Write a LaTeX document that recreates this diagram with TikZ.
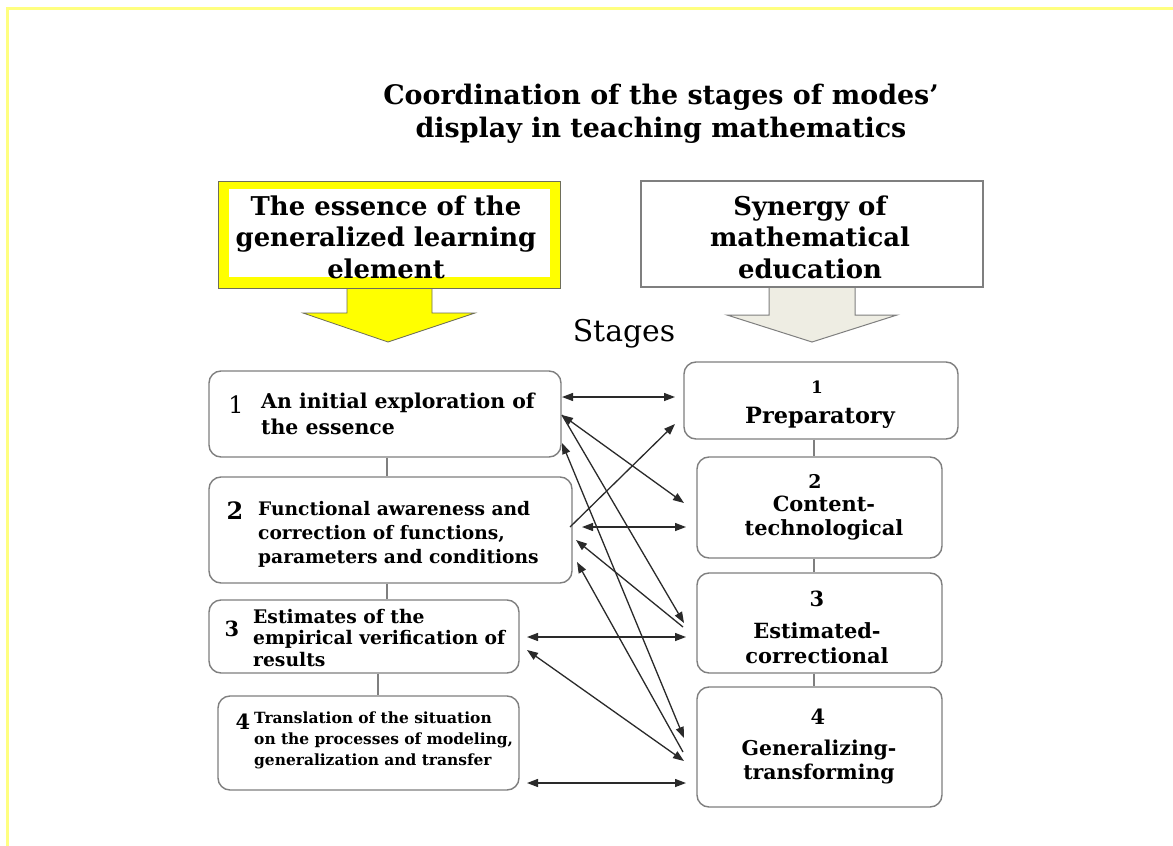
\documentclass[tikz,border=0pt]{standalone}
\usepackage{fontspec}
\setmainfont{DejaVu Serif}
\usetikzlibrary{arrows.meta}
\definecolor{boxgray}{HTML}{7F7F7F}
\definecolor{arrgray}{HTML}{2A2A2A}
\definecolor{frameyellow}{HTML}{FFFF80}
\definecolor{hdryellow}{HTML}{FFFF00}
\definecolor{hdrgray}{HTML}{EEEDE3}
\definecolor{hdrline}{HTML}{6E6E5A}
\begin{document}
\begin{tikzpicture}[x=1bp,y=-1bp,
  >={Triangle[length=11bp,width=8bp]},
  stagebox/.style={draw=boxgray, line width=1.4bp, rounded corners=12bp, fill=white, inner sep=0pt},
  link/.style={draw=boxgray, line width=1.4bp},
  conn/.style={draw=arrgray, line width=1.3bp},
  txt/.style={inner sep=0pt, align=left, anchor=west},
  ctxt/.style={inner sep=0pt, align=center},
  hdr/.style={ctxt, font=\fontsize{26}{31.5}\selectfont\bfseries},
  num/.style={inner sep=0pt, font=\fontsize{24}{26}\selectfont}
]
\useasboundingbox (0,0) rectangle (1173,846);
\fill[white] (0,0) rectangle (1173,846);
% frame
\draw[frameyellow, line width=3bp] (7,846) -- (7,8) -- (1173,8);

% title
\node[ctxt, font=\fontsize{27}{33}\selectfont\bfseries] (title) at (661,114)
  {Coordination of the stages of modes’\\display in teaching mathematics};

% left header arrow
\filldraw[fill=hdryellow, draw=hdrline, line width=0.8bp]
  (347,286) -- (347,313) -- (303,313) -- (388,342) -- (475,313) -- (432,313) -- (432,286);
\filldraw[fill=hdryellow, draw=hdrline, line width=0.8bp] (218,181) rectangle (560,288);
\fill[white] (229,189) rectangle (550,277);
\node[hdr] (hL) at (386,237) {The essence of the\\generalized learning\\element};

% right header arrow
\filldraw[fill=hdrgray, draw=boxgray, line width=1bp]
  (769,285) -- (769,315) -- (727,315) -- (812,342) -- (897,315) -- (855,315) -- (855,285);
\filldraw[fill=white, draw=boxgray, line width=1.2bp] (641,181) rectangle (983,287);
\node[hdr] (hR) at (810,237) {Synergy of\\mathematical\\education};

\node[inner sep=0pt, font=\fontsize{30}{34}\selectfont] (stages) at (624,334) {Stages};

% left boxes
\node[stagebox, minimum width=352bp, minimum height=86bp] (L1) at (385,414) {};
\node[stagebox, minimum width=363bp, minimum height=106bp] (L2) at (390.5,530) {};
\node[stagebox, minimum width=310bp, minimum height=73bp] (L3) at (364,636.5) {};
\node[stagebox, minimum width=301bp, minimum height=94bp] (L4) at (368.5,743) {};

\node[num] (n1) at (236,405) {1};
\node[txt, font=\fontsize{20.5}{26}\selectfont\bfseries] (t1) at (261,414)
  {An initial exploration of\\the essence};
\node[num, font=\fontsize{24}{26}\selectfont\bfseries] (n2) at (235,511) {2};
\node[txt, font=\fontsize{18.7}{24}\selectfont\bfseries] (t2) at (258,534)
  {Functional awareness and\\correction of functions,\\parameters and conditions};
\node[num, font=\fontsize{21}{24}\selectfont\bfseries] (n3) at (232,629) {3};
\node[txt, font=\fontsize{18.8}{22}\selectfont\bfseries] (t3) at (253,638)
  {Estimates of the\\empirical verification of\\results};
\node[num, font=\fontsize{21}{24}\selectfont\bfseries] (n4) at (243,722) {4};
\node[txt, font=\fontsize{15.5}{21}\selectfont\bfseries] (t4) at (254,740)
  {Translation of the situation\\on the processes of modeling,\\generalization and transfer};

% right boxes
\node[stagebox, minimum width=274bp, minimum height=77bp] (R1) at (821,400.5) {};
\node[stagebox, minimum width=245bp, minimum height=101bp] (R2) at (819.5,507.5) {};
\node[stagebox, minimum width=245bp, minimum height=100bp] (R3) at (819.5,623) {};
\node[stagebox, minimum width=245bp, minimum height=120bp] (R4) at (819.5,747) {};

\node[ctxt, font=\fontsize{17}{20}\selectfont\bfseries] (m1) at (817,387) {1};
\node[ctxt, font=\fontsize{22.5}{24}\selectfont\bfseries] (s1) at (820,418) {Preparatory};
\node[ctxt, font=\fontsize{19}{22}\selectfont\bfseries] (m2) at (815,481) {2};
\node[ctxt, font=\fontsize{21}{24}\selectfont\bfseries] (s2) at (824,518) {Content-\\technological};
\node[ctxt, font=\fontsize{21}{24}\selectfont\bfseries] (m3) at (817,599) {3};
\node[ctxt, font=\fontsize{21}{25}\selectfont\bfseries] (s3) at (817,643) {Estimated-\\correctional};
\node[ctxt, font=\fontsize{21}{24}\selectfont\bfseries] (m4) at (818,717) {4};
\node[ctxt, font=\fontsize{20.5}{24}\selectfont\bfseries] (s4) at (819,762) {Generalizing-\\transforming};

% vertical links
\draw[link] ([xshift=2bp]L1.south) -- ([xshift=2bp]L1.south |- L2.north);
\draw[link] ([xshift=-3.5bp]L2.south) -- ([xshift=-3.5bp]L2.south |- L3.north);
\draw[link] ([xshift=14bp]L3.south) -- ([xshift=14bp]L3.south |- L4.north);
\draw[link] ([xshift=-7bp]R1.south) -- ([xshift=-7bp]R1.south |- R2.north);
\draw[link] ([xshift=-5.5bp]R2.south) -- ([xshift=-5.5bp]R2.south |- R3.north);
\draw[link] ([xshift=-5.5bp]R3.south) -- ([xshift=-5.5bp]R3.south |- R4.north);

% connector end points
\coordinate (a1) at (562,397); \coordinate (a2) at (675,397);
\coordinate (b1) at (562,415); \coordinate (b2) at (684,503); \coordinate (b3) at (684,623);
\coordinate (c1) at (562,443); \coordinate (c2) at (684,738);
\coordinate (d1) at (570,527); \coordinate (d2) at (675,424);
\coordinate (e1) at (582,527); \coordinate (e2) at (686,527);
\coordinate (f1) at (576,540); \coordinate (f2) at (683,627);
\coordinate (g1) at (577,562); \coordinate (g2) at (683,752);
\coordinate (h1) at (527,637); \coordinate (h2) at (686,637);
\coordinate (i1) at (527,650); \coordinate (i2) at (684,761);
\coordinate (j1) at (527,783); \coordinate (j2) at (686,783);

\draw[conn, <->] (a1) -- (a2);
\draw[conn, <->] (b1) -- (b2);
\draw[conn, ->] (b1) -- (b3);
\draw[conn, <->] (c1) -- (c2);
\draw[conn, ->] (d1) -- (d2);
\draw[conn, <->] (e1) -- (e2);
\draw[conn, <-] (f1) -- (f2);
\draw[conn, <-] (g1) -- (g2);
\draw[conn, <->] (h1) -- (h2);
\draw[conn, <->] (i1) -- (i2);
\draw[conn, <->] (j1) -- (j2);
\end{tikzpicture}
\end{document}
